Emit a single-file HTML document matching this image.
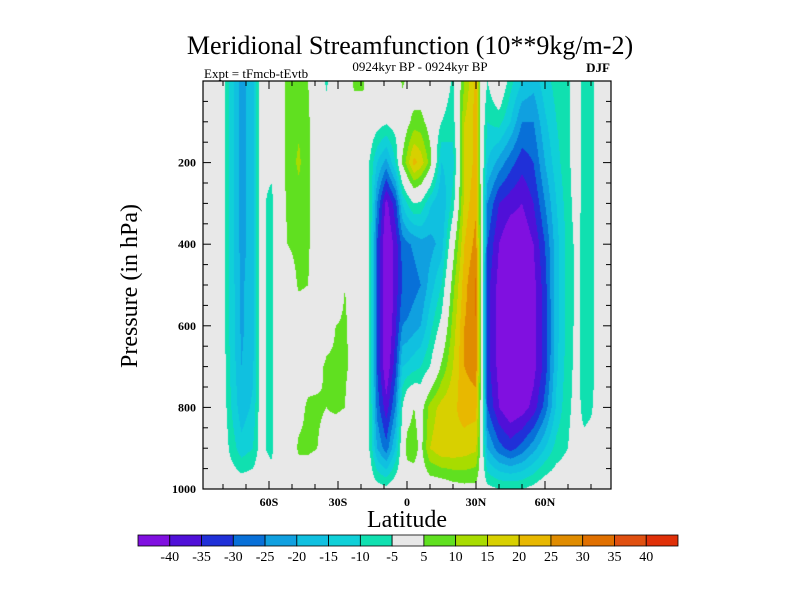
<!DOCTYPE html>
<html><head><meta charset="utf-8"><style>
body{margin:0;background:#fff;}
#wrap{position:relative;width:800px;height:600px;overflow:hidden;font-family:"Liberation Serif",serif;}
canvas{position:absolute;left:0;top:0;}
svg{position:absolute;left:0;top:0;}
</style></head><body>
<div id="wrap">
<canvas id="cv" width="800" height="600"></canvas>
<svg id="sv" width="800" height="600">
<text x="410" y="54" font-size="26" text-anchor="middle">Meridional Streamfunction (10**9kg/m-2)</text>
<text x="420" y="71" font-size="13" text-anchor="middle">0924kyr BP - 0924kyr BP</text>
<text x="204" y="78" font-size="13">Expt = tFmcb-tEvtb</text>
<text x="610" y="72" font-size="13" font-weight="bold" text-anchor="end">DJF</text>
<text x="407" y="527" font-size="24" text-anchor="middle">Latitude</text>
<text transform="translate(137,286) rotate(-90)" font-size="24" text-anchor="middle">Pressure (in hPa)</text>
<g id="axes"></g>
<g id="cbar"></g>
</svg>
</div>
<script>
const levels=[0,100,200,300,400,500,600,700,800,900,1000];
const lats=[-90,-80,-77,-72,-67,-64,-59,-56,-52,-47,-43,-39,-35,-31,-27,-23,-19,-16,-13,-9,-5,-2,0,3,6,10,15,20,25,30,32.5,35,40,45,50,55,60,65,70,74,77,80,84,90];
const values=[
[0,0,0,0,0,0,0,0,0,0,0],
[-2,-2,-2,-2,-2,-2,-2,-2,-1,0,0],
[-11,-11,-11,-11,-11,-11,-11,-10,-9,-6,0],
[-22,-22,-22,-22,-22,-21,-21,-20,-18,-13,0],
[-17,-17,-17,-17,-17,-17,-17,-16,-14,-10,0],
[-3,-3,-3,-3,-3,-3,-3,-3,-3,-3,0],
[-2,-2,-3,-7,-7,-7,-7,-7,-7,-7,0],
[0,0,0,0,0,0,0,0,0,0,0],
[7,7,7,6,5,0,0,0,0,0,0],
[7,9,11,8,7,6,0,0,3,6,0],
[5,6,6,6,6,5,0,2,6,6,0],
[0,0,0,0,0,0,0,3,6,5,0],
[-6,-2,0,0,0,0,2,6,5,2,0],
[0,0,0,0,0,0,5,6,6,0,0],
[0,0,0,0,0,5,6,6,5,0,0],
[6,2,0,0,0,0,2,3,0,0,0],
[6,2,0,0,0,0,0,0,0,0,0],
[0,0,-6,-6,-6,-6,-6,-6,-6,-6,0],
[0,-2,-15,-25,-30,-30,-30,-30,-27,-20,-2],
[0,-4,-22,-42,-46,-47,-47,-45,-38,-28,-3],
[0,-2,-10,-32,-38,-38,-36,-32,-25,-15,0],
[6,0,6,-15,-28,-30,-25,-15,-5,0,0],
[4,3,12,-10,-26,-30,-24,-14,2,7,0],
[0,7,22,-5,-24,-27,-22,-12,5,8,0],
[0,7,18,-6,-22,-25,-20,-10,2,3,0],
[0,2,8,-14,-22,-18,-12,-5,12,15,0],
[0,-5,-15,-20,-18,-10,-3,6,17,19,0],
[-6,-8,-12,-8,2,8,12,15,19,19,2],
[10,15,15,17,20,23,25,25,22,18,3],
[22,22,22,24,27,31,30,28,22,16,3],
[0,0,0,0,0,0,0,0,0,0,0],
[-5,-10,-15,-25,-30,-33,-33,-33,-30,-20,-3],
[3,-8,-22,-35,-40,-42,-42,-42,-40,-28,-5],
[-8,-15,-28,-38,-45,-47,-47,-47,-45,-32,-5],
[-15,-25,-33,-40,-45,-47,-47,-47,-43,-28,-5],
[-18,-25,-30,-35,-40,-42,-42,-42,-38,-22,-3],
[-12,-16,-20,-25,-30,-32,-33,-33,-28,-15,0],
[-8,-10,-12,-15,-17,-17,-17,-16,-14,-8,0],
[-6,-6,-6,-7,-8,-8,-8,-7,-6,-5,0],
[-2,-2,-2,-2,-3,-3,-3,-3,-3,-2,0],
[-8,-8,-8,-8,-8,-8,-8,-8,-7,-3,0],
[-8,-8,-8,-8,-8,-8,-8,-8,-6,-2,0],
[0,0,0,0,0,0,0,0,0,0,0],
[0,0,0,0,0,0,0,0,0,0,0]];
const contourLevels=[-40,-35,-30,-25,-20,-15,-10,-5,5,10,15,20,25,30,35,40];
const cbLabels=["-40","-35","-30","-25","-20","-15","-10","-5","5","10","15","20","25","30","35","40"];
const colors=["#8010e0","#5010d8","#2030d8","#0870d8","#10a0e0","#10c0e0","#10d0d8","#10e0b0","#e8e8e8","#60e020","#a8dc00","#d8d000","#e8b800","#e08c00","#e07000","#e05010","#e03008"];
const xTicks=[-60,-30,0,30,60];
const xTickLabels=["60S","30S","0","30N","60N"];
const yTicks=[200,400,600,800,1000];

const PX0=203,PX1=611,PY0=81,PY1=489,LAT0=-88.7,LAT1=88.7;
const xs=l=>PX0+(l-LAT0)/(LAT1-LAT0)*(PX1-PX0);
const ys=p=>PY0+p/1000*(PY1-PY0);
function interp(lat,p){
  let i=0;while(i<lats.length-2&&lats[i+1]<lat)i++;
  let j=0;while(j<levels.length-2&&levels[j+1]<p)j++;
  const tx=Math.max(0,Math.min(1,(lat-lats[i])/(lats[i+1]-lats[i])));
  const ty=Math.max(0,Math.min(1,(p-levels[j])/(levels[j+1]-levels[j])));
  const a=values[i][j],b=values[i+1][j],c=values[i][j+1],d=values[i+1][j+1];
  return (a*(1-tx)+b*tx)*(1-ty)+(c*(1-tx)+d*tx)*ty;
}
function cls(v){let k=0;while(k<contourLevels.length&&v>=contourLevels[k])k++;return k;}
function hex(h){return [parseInt(h.substr(1,2),16),parseInt(h.substr(3,2),16),parseInt(h.substr(5,2),16)];}
const rgb=colors.map(hex);
const ctx=document.getElementById('cv').getContext('2d');
const W=PX1-PX0,H=PY1-PY0;
const img=ctx.createImageData(W,H);
for(let y=0;y<H;y++){for(let x=0;x<W;x++){
  const lat=LAT0+(x+0.5)/W*(LAT1-LAT0),p=(y+0.5)/H*1000;
  const c=rgb[cls(interp(lat,p))];const o=(y*W+x)*4;
  img.data[o]=c[0];img.data[o+1]=c[1];img.data[o+2]=c[2];img.data[o+3]=255;}}
ctx.putImageData(img,PX0,PY0);

const NS="http://www.w3.org/2000/svg";
function mk(t,at,parent){const e=document.createElementNS(NS,t);for(const k in at)e.setAttribute(k,at[k]);parent.appendChild(e);return e;}
const ax=document.getElementById('axes');
const frame=mk('rect',{x:PX0,y:PY0,width:W,height:H,fill:'none',stroke:'#000','stroke-width':1.2},ax);


for(let l=-80;l<=80;l+=10){
  const x=xs(l);const len=(l%30===0)?8:5;
  const t1=mk('line',{x1:x,y1:PY1,x2:x,y2:PY1-len,stroke:'#000'},ax);
  
  
  const t2=mk('line',{x1:x,y1:PY0,x2:x,y2:PY0+len,stroke:'#000'},ax);
  
  
}
xTicks.forEach((l,i)=>{const t=mk('text',{x:xs(l),y:506,'font-size':12,'font-weight':'bold','text-anchor':'middle'},ax);t.textContent=xTickLabels[i];
  
  });
for(let p=50;p<=1000;p+=50){
  const y=ys(p);const len=(p%200===0)?8:5;
  const t1=mk('line',{x1:PX0,y1:y,x2:PX0+len,y2:y,stroke:'#000'},ax);
  
  
  const t2=mk('line',{x1:PX1,y1:y,x2:PX1-len,y2:y,stroke:'#000'},ax);
  
  
}
yTicks.forEach(p=>{const t=mk('text',{x:196,y:ys(p)+4,'font-size':12,'font-weight':'bold','text-anchor':'end'},ax);t.textContent=String(p);
  
  });

const cb=document.getElementById('cbar');
const CB0=138,CB1=678,CBY=535,CBH=11,bw=(CB1-CB0)/colors.length;
colors.forEach((c,i)=>{const r=mk('rect',{x:CB0+i*bw,y:CBY,width:bw,height:CBH,fill:c,stroke:'#000','stroke-width':0.8},cb);
  
  });
cbLabels.forEach((s,i)=>{const t=mk('text',{x:CB0+(i+1)*bw,y:561,'font-size':14,'text-anchor':'middle'},cb);t.textContent=s;
  
  });
</script>
</body></html>
